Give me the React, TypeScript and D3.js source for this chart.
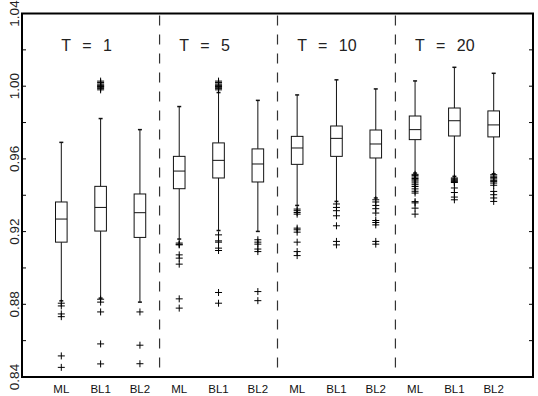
import React, { useEffect, useRef } from "react";
import * as d3 from "d3";

const groups = ["T = 1", "T = 5", "T = 10", "T = 20"];
const methods = ["ML", "BL1", "BL2"];

// per box, in order T=1 (ML, BL1, BL2), T=5 (...), T=10 (...), T=20 (...)
const whiskerHigh = [0.9691, 0.9822, 0.9761, 0.9888, 0.9965, 0.9922, 0.9952, 1.0035, 0.9985, 1.0029, 1.0104, 1.0071];
const q3 = [0.9363, 0.9449, 0.9407, 0.9614, 0.9688, 0.9655, 0.9724, 0.9781, 0.9759, 0.9836, 0.988, 0.9864];
const medians = [0.9269, 0.9333, 0.9304, 0.9533, 0.9592, 0.9572, 0.966, 0.9713, 0.9682, 0.9761, 0.981, 0.9787];
const q1 = [0.9142, 0.9203, 0.9168, 0.9436, 0.9495, 0.9473, 0.957, 0.9614, 0.9605, 0.9706, 0.9726, 0.9721];
const whiskerLow = [0.8819, 0.8834, 0.8812, 0.9159, 0.9206, 0.9201, 0.9344, 0.9366, 0.9385, 0.9522, 0.9504, 0.9518];

const outliers = [
  [0.8806, 0.8791, 0.8747, 0.8732, 0.8516, 0.8453],
  [0.998, 0.9988, 0.9994, 0.9998, 1.0002, 1.0006, 1.0012, 1.002, 1.0028, 0.8828, 0.8812, 0.8758, 0.8582, 0.8472],
  [0.8758, 0.8575, 0.8473],
  [0.9137, 0.913, 0.9127, 0.9072, 0.9054, 0.9021, 0.883, 0.8779],
  [0.998, 0.9988, 0.9994, 0.9998, 1.0002, 1.0006, 1.0012, 1.002, 1.0028, 0.9182, 0.9149, 0.9142, 0.9109, 0.9096, 0.8865, 0.8806],
  [0.9155, 0.9142, 0.9131, 0.9104, 0.909, 0.887, 0.882],
  [0.9324, 0.9315, 0.9305, 0.9296, 0.9219, 0.921, 0.9197, 0.9142, 0.909, 0.9068],
  [0.9352, 0.9333, 0.9315, 0.9287, 0.9232, 0.9146, 0.9127],
  [0.9375, 0.9363, 0.9344, 0.9326, 0.9302, 0.9261, 0.925, 0.9237, 0.9146, 0.9131],
  [0.9515, 0.9508, 0.95, 0.9492, 0.9485, 0.9478, 0.9468, 0.9458, 0.9448, 0.9435, 0.9422, 0.9412, 0.9365, 0.9358, 0.9329, 0.9296],
  [0.9495, 0.949, 0.9485, 0.948, 0.9475, 0.947, 0.944, 0.9415, 0.939, 0.9375],
  [0.9513, 0.9505, 0.9497, 0.949, 0.9482, 0.9475, 0.9467, 0.9455, 0.9421, 0.9403, 0.9385, 0.9366],
];

const yLabels = [0.84, 0.88, 0.92, 0.96, 1.0, 1.04];
const yMinor = [0.86, 0.9, 0.94, 0.98, 1.02];

const W = 538;
const H = 396;
const margin = { top: 13.5, right: 5, bottom: 19, left: 22 };

const BoxChart = () => {
  const ref = useRef(null);

  useEffect(() => {
    const svg = d3.select(ref.current);
    svg.selectAll("*").remove();

    const keys = groups.flatMap((g, gi) => methods.map((m) => `${gi}-${m}`));
    const x = d3
      .scalePoint()
      .domain(keys)
      .range([margin.left, W - margin.right])
      .padding(1);
    const y = d3.scaleLinear().domain([0.84, 1.04]).range([H - margin.bottom, margin.top]);

    const font = "'Liberation Sans', Arial, sans-serif";
    const boxW = 11.6;
    const capW = 4;

    // group separators
    for (let gi = 1; gi < groups.length; gi++) {
      const xs = (x(`${gi - 1}-BL2`) + x(`${gi}-ML`)) / 2;
      svg
        .append("line")
        .attr("x1", xs)
        .attr("x2", xs)
        .attr("y1", margin.top + 2)
        .attr("y2", H - margin.bottom)
        .attr("stroke", "#333")
        .attr("stroke-width", 1.2)
        .attr("stroke-dasharray", "10,9");
    }

    // titles
    groups.forEach((g, gi) => {
      svg
        .append("text")
        .attr("x", x(`${gi}-ML`))
        .attr("y", 51)
        .attr("font-family", font)
        .attr("font-size", 16)
        .style("word-spacing", "7px")
        .attr("fill", "#222")
        .text(g);
    });

    // ticks, inward on both sides
    [...yLabels, ...yMinor].forEach((v) => {
      svg
        .append("line")
        .attr("x1", margin.left)
        .attr("x2", margin.left + 4)
        .attr("y1", y(v))
        .attr("y2", y(v))
        .attr("stroke", "#000");
      svg
        .append("line")
        .attr("x1", W - margin.right - 4)
        .attr("x2", W - margin.right)
        .attr("y1", y(v))
        .attr("y2", y(v))
        .attr("stroke", "#000");
    });

    yLabels.forEach((v) => {
      svg
        .append("text")
        .attr("transform", `translate(19,${y(v)}) rotate(-90)`)
        .attr("text-anchor", "middle")
        .attr("font-family", font)
        .attr("font-size", 13.5)
        .attr("fill", "#222")
        .text(d3.format(".2f")(v));
    });

    keys.forEach((k) => {
      svg
        .append("text")
        .attr("x", x(k))
        .attr("y", 393)
        .attr("text-anchor", "middle")
        .attr("font-family", font)
        .attr("font-size", 11.5)
        .attr("fill", "#111")
        .text(k.split("-")[1]);
    });

    // boxes
    const boxes = svg
      .append("g")
      .selectAll("g")
      .data(keys)
      .join("g")
      .attr("stroke", "#111")
      .attr("fill", "none");

    boxes
      .append("line")
      .attr("x1", (d) => x(d))
      .attr("x2", (d) => x(d))
      .attr("y1", (d, i) => y(whiskerHigh[i]))
      .attr("y2", (d, i) => y(q3[i]));
    boxes
      .append("line")
      .attr("x1", (d) => x(d))
      .attr("x2", (d) => x(d))
      .attr("y1", (d, i) => y(q1[i]))
      .attr("y2", (d, i) => y(whiskerLow[i]));
    boxes
      .append("line")
      .attr("x1", (d) => x(d) - capW / 2)
      .attr("x2", (d) => x(d) + capW / 2)
      .attr("y1", (d, i) => y(whiskerHigh[i]))
      .attr("y2", (d, i) => y(whiskerHigh[i]))
      .attr("stroke-width", 1.5);
    boxes
      .append("line")
      .attr("x1", (d) => x(d) - capW / 2)
      .attr("x2", (d) => x(d) + capW / 2)
      .attr("y1", (d, i) => y(whiskerLow[i]))
      .attr("y2", (d, i) => y(whiskerLow[i]))
      .attr("stroke-width", 1.5);
    boxes
      .append("rect")
      .attr("x", (d) => x(d) - boxW / 2)
      .attr("width", boxW)
      .attr("y", (d, i) => y(q3[i]))
      .attr("height", (d, i) => y(q1[i]) - y(q3[i]))
      .attr("fill", "#fff");
    boxes
      .append("line")
      .attr("x1", (d) => x(d) - boxW / 2)
      .attr("x2", (d) => x(d) + boxW / 2)
      .attr("y1", (d, i) => y(medians[i]))
      .attr("y2", (d, i) => y(medians[i]));

    // outliers as "+"
    boxes
      .selectAll("path")
      .data((d, i) => outliers[i].map((v) => ({ k: d, v })))
      .join("path")
      .attr("d", (p) => {
        const cx = x(p.k);
        const cy = y(p.v);
        return `M${cx - 3.5},${cy}H${cx + 3.5}M${cx},${cy - 3.5}V${cy + 3.5}`;
      })
      .attr("stroke", "#000");

    // frame
    svg
      .append("rect")
      .attr("x", margin.left)
      .attr("y", margin.top)
      .attr("width", W - margin.left - margin.right)
      .attr("height", H - margin.top - margin.bottom)
      .attr("fill", "none")
      .attr("stroke", "#000")
      .attr("stroke-width", 2);
  }, []);

  return (
    <svg
      ref={ref}
      width={W}
      height={H}
      style={{ position: "absolute", left: 0, top: 0, display: "block", background: "#fff" }}
    />
  );
};

export default function App() {
  return <BoxChart />;
}
